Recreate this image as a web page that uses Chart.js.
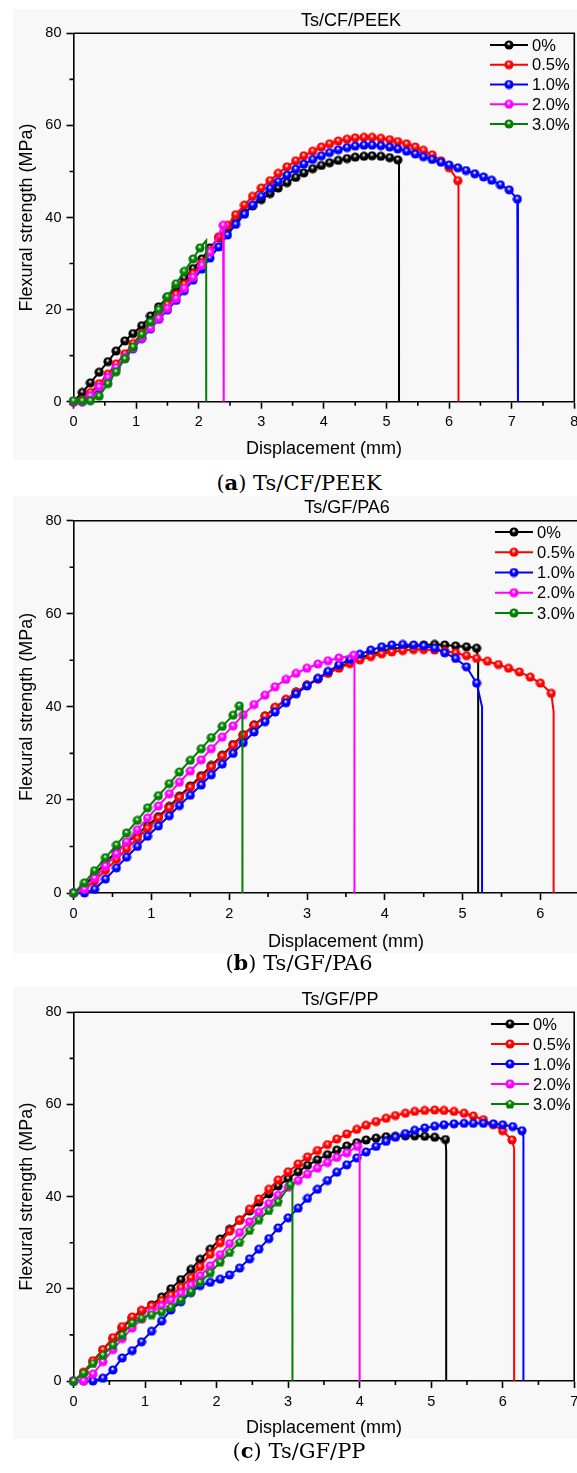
<!DOCTYPE html>
<html lang="en">
<head>
<meta charset="UTF-8">
<title>Flexural strength vs displacement</title>
<script src="https://cdn.jsdelivr.net/npm/chart.js"></script>
<style>
  html, body { margin: 0; padding: 0; background: #fff; }
  body { width: 577px; height: 1473px; overflow: hidden; position: relative; }
  .panel { position: absolute; left: 13px; width: 676px; background: #f8f8f8; }
  .panel canvas { display: block; }
  .caption {
    position: absolute; left: 0; width: 598px; text-align: center;
    font-family: "DejaVu Serif", serif; font-size: 21px; line-height: 24px; color: #000;
  }
</style>
</head>
<body>
<div class="panel" style="top:9px;height:451px"><canvas id="chartA" width="676" height="451"></canvas></div>
<div class="caption" style="top:471px">(<b>a</b>) Ts/CF/PEEK</div>
<div class="panel" style="top:496px;height:457px"><canvas id="chartB" width="676" height="457"></canvas></div>
<div class="caption" style="top:951px">(<b>b</b>) Ts/GF/PA6</div>
<div class="panel" style="top:987px;height:452px"><canvas id="chartC" width="676" height="452"></canvas></div>
<div class="caption" style="top:1439px">(<b>c</b>) Ts/GF/PP</div>

<script>
// displacement (mm) at which the markers sit
const disp = [0, 0.14, 0.27, 0.41, 0.55, 0.68, 0.82, 0.95, 1.09, 1.23, 1.36, 1.5, 1.64, 1.77, 1.91,
  2.05, 2.18, 2.32, 2.46, 2.59, 2.73, 2.86, 3.0, 3.14, 3.27, 3.41, 3.55, 3.68, 3.82, 3.96, 4.09,
  4.23, 4.37, 4.5, 4.64, 4.77, 4.91, 5.05, 5.18, 5.32, 5.46, 5.59, 5.73, 5.87, 6.0, 6.14, 6.27,
  6.41, 6.55, 6.68, 6.82, 6.96, 7.09];

const contents = ['0%', '0.5%', '1.0%', '2.0%', '3.0%'];

// Ts/CF/PEEK, flexural strength (MPa)
const peek_0 = [0, 2.0, 4.1, 6.4, 8.7, 11.0, 13.2, 14.8, 16.5, 18.6, 20.6, 22.7, 24.8, 26.8, 28.9, 31.0,
  33.4, 35.6, 37.6, 39.5, 41.0, 42.5, 43.9, 45.2, 46.4, 47.6, 48.7, 49.7, 50.6, 51.3, 51.9, 52.4, 52.8,
  53.1, 53.3, 53.4, 53.3, 53.0];
const peek_05 = [0, 0.4, 2.0, 3.9, 6.0, 8.2, 10.4, 12.6, 14.9, 17.0, 19.0, 21.1, 23.3, 25.5, 27.8, 30.2,
  32.8, 35.8, 38.3, 40.6, 42.7, 44.6, 46.4, 48.0, 49.6, 51.0, 52.3, 53.4, 54.4, 55.3, 56.0, 56.6, 57.0,
  57.3, 57.4, 57.4, 57.2, 56.9, 56.5, 56.0, 55.3, 54.6, 53.6, 52.3, 50.8];
const peek_10 = [0, 0, 1.0, 2.9, 5.0, 7.2, 9.4, 11.5, 13.7, 15.8, 17.9, 19.9, 22.0, 24.1, 26.4, 28.8,
  31.2, 33.6, 36.2, 38.5, 40.7, 42.7, 44.6, 46.3, 47.8, 49.2, 50.5, 51.6, 52.6, 53.4, 54.1, 54.7, 55.2,
  55.5, 55.7, 55.7, 55.6, 55.3, 54.9, 54.4, 53.8, 53.2, 52.6, 52.0, 51.4, 50.8, 50.2, 49.5, 48.8, 48.1,
  47.1, 46.0];
const peek_20 = [0, 0, 1.3, 3.2, 5.3, 7.4, 9.6, 11.7, 13.9, 16.0, 18.1, 20.2, 22.4, 24.6, 27.0, 29.6, 32.4];
const peek_30 = [0.2, 0.2, 0.2, 1.2, 3.9, 6.5, 9.3, 11.9, 14.6, 17.3, 20.0, 22.8, 25.6, 28.3, 31.0];
// [last marker x, last marker y, fracture x, top of fracture drop]
const peek_end = [[5.18, 52.5, 5.2, 52.0], [6.14, 48.0, 6.15, 46.5], [7.09, 44.0, 7.1, 43.0],
  [2.39, 38.3, 2.4, 38.0], [2.02, 33.4, 2.12, 35.0]];

// Ts/GF/PA6
const pa6_0 = [0, 1.5, 4.0, 6.5, 8.9, 10.8, 12.6, 14.5, 16.4, 18.6, 20.8, 23.0, 25.2, 27.4, 29.6, 31.9,
  34.0, 36.1, 38.0, 39.8, 41.5, 43.1, 44.6, 46.0, 47.3, 48.5, 49.6, 50.5, 51.3, 51.9, 52.4, 52.8, 53.1,
  53.3, 53.4, 53.3, 53.1, 52.9];
const pa6_05 = [0, 0.5, 2.6, 4.9, 7.2, 9.5, 11.7, 13.9, 16.1, 18.3, 20.5, 22.7, 24.9, 27.1, 29.4, 31.7,
  33.9, 36.0, 38.0, 39.9, 41.6, 43.2, 44.7, 46.0, 47.2, 48.3, 49.3, 50.1, 50.8, 51.4, 51.8, 52.1, 52.3,
  52.3, 52.2, 52.0, 51.6, 51.0, 50.4, 49.8, 49.1, 48.3, 47.5, 46.4, 45.1];
const pa6_10 = [0, 0, 0.8, 3.0, 5.4, 7.7, 10.0, 12.2, 14.4, 16.6, 18.8, 21.0, 23.2, 25.4, 27.7, 30.0,
  32.3, 34.6, 36.8, 38.9, 40.9, 42.8, 44.5, 46.1, 47.6, 49.0, 50.2, 51.3, 52.2, 52.9, 53.3, 53.4, 53.3,
  53.1, 52.6, 51.6, 50.4, 48.6];
const pa6_20 = [0, 0.8, 3.2, 5.8, 8.4, 11.0, 13.6, 16.1, 18.7, 21.3, 23.8, 26.2, 28.6, 31.0, 33.5, 35.9,
  38.3, 40.5, 42.5, 44.3, 45.9, 47.2, 48.3, 49.2, 49.9, 50.5];
const pa6_30 = [0, 2.2, 4.8, 7.6, 10.3, 12.9, 15.6, 18.3, 20.9, 23.5, 26.0, 28.5, 31.0, 33.4, 35.8, 38.2];
const pa6_end = [[5.18, 52.6, 5.2, 50.0], [6.14, 42.9, 6.17, 39.0], [5.18, 45.1, 5.25, 40.0],
  [3.6, 51.1, 3.61, 50.5], [2.13, 40.2, 2.17, 39.5]];

// Ts/GF/PP
const pp_0 = [0, 1.8, 4.2, 6.7, 9.2, 11.5, 13.6, 15.2, 16.5, 18.2, 20.0, 22.0, 24.2, 26.4, 28.6, 30.8,
  32.9, 34.9, 36.9, 38.8, 40.6, 42.3, 43.9, 45.4, 46.8, 48.0, 49.1, 50.1, 51.0, 51.7, 52.3, 52.7, 53.0,
  53.1, 53.2, 53.2, 53.1, 52.9];
const pp_05 = [0, 1.9, 4.4, 6.8, 9.4, 11.8, 13.9, 15.3, 16.3, 17.4, 18.6, 20.3, 22.4, 24.8, 27.5, 30.0,
  32.5, 34.9, 37.3, 39.5, 41.6, 43.6, 45.4, 47.1, 48.6, 50.0, 51.3, 52.5, 53.6, 54.6, 55.5, 56.3, 57.0,
  57.6, 58.1, 58.5, 58.7, 58.8, 58.7, 58.5, 58.1, 57.5, 56.7, 55.6, 54.3];
const pp_10 = [0, 0, 0, 0.6, 2.4, 5.0, 6.6, 8.5, 10.8, 13.0, 15.4, 17.2, 19.2, 20.7, 21.4, 22.1, 23.0,
  24.5, 26.5, 28.6, 30.9, 33.2, 35.4, 37.5, 39.6, 41.6, 43.5, 45.3, 46.9, 48.4, 49.7, 50.9, 52.0, 52.9,
  53.7, 54.4, 54.9, 55.3, 55.6, 55.8, 55.9, 55.9, 55.9, 55.8, 55.6, 55.2];
const pp_20 = [0, 0, 1.5, 4.2, 6.8, 9.2, 11.5, 13.4, 15.0, 16.3, 17.5, 19.0, 20.8, 22.8, 25.0, 27.4,
  29.8, 32.2, 34.5, 36.6, 38.5, 40.3, 42.0, 43.5, 44.9, 46.2, 47.4, 48.5, 49.5];
const pp_30 = [0, 1.7, 3.8, 5.6, 7.8, 10.0, 12.6, 13.6, 14.4, 15.0, 16.0, 17.6, 19.4, 21.4, 23.5, 25.8,
  27.9, 30.1, 32.7, 35.0, 37.0, 38.9];
const pp_end = [[5.2, 52.4, 5.21, 50.0], [6.13, 52.3, 6.16, 50.5], [6.27, 54.3, 6.29, 53.0],
  [3.97, 50.9, 4.0, 50.0], [3.03, 42.6, 3.06, 43.0]];

const colors = ['#000000', '#ff0000', '#0000ff', '#ff00ff', '#008000'];
const FONT = '"Liberation Sans", Arial, sans-serif';
Chart.defaults.font.family = FONT;
Chart.defaults.color = '#000';

// shiny bead marker like the Origin plot
function bead(color, shape) {
  const c = document.createElement('canvas');
  c.width = 10; c.height = 10;
  const g = c.getContext('2d');
  g.beginPath();
  if (shape === 'pentagon') {
    for (let k = 0; k < 5; k++) {
      const a = -Math.PI / 2 + k * 2 * Math.PI / 5;
      g.lineTo(5 + 5 * Math.cos(a), 5.4 + 5 * Math.sin(a));
    }
    g.closePath();
  } else {
    g.arc(5, 5, 4.6, 0, Math.PI * 2);
  }
  const grad = g.createRadialGradient(4.6, 3.6, 0.2, 5, 5, 5);
  grad.addColorStop(0, 'rgba(255,255,255,0.95)');
  grad.addColorStop(0.4, color);
  grad.addColorStop(1, color);
  g.fillStyle = grad;
  g.fill();
  return c;
}

const frame = {
  id: 'frame',
  afterDraw(chart) {
    const { ctx, chartArea: a, scales: { x, y } } = chart;
    ctx.save();
    ctx.strokeStyle = '#000';
    ctx.lineWidth = 1.6;
    ctx.beginPath();
    ctx.moveTo(a.left, a.top); ctx.lineTo(a.right, a.top); ctx.lineTo(a.right, a.bottom);
    for (let v = 10; v < 80; v += 20) {
      const py = y.getPixelForValue(v);
      ctx.moveTo(a.left - 4, py); ctx.lineTo(a.left, py);
    }
    for (let v = 0.5; v < x.max; v += 1) {
      const px = x.getPixelForValue(v);
      ctx.moveTo(px, a.bottom); ctx.lineTo(px, a.bottom + 4);
    }
    ctx.stroke();
    ctx.restore();
  }
};

const panelText = {
  id: 'panelText',
  afterDraw(chart, args, o) {
    const ctx = chart.ctx;
    ctx.save();
    ctx.fillStyle = '#000';
    ctx.font = '18px ' + FONT;
    ctx.textAlign = 'center';
    ctx.textBaseline = 'middle';
    ctx.fillText(o.title, o.titleX, o.titleY);
    // legend in the top right corner
    ctx.textAlign = 'left';
    ctx.font = '16.5px ' + FONT;
    chart.data.datasets.forEach((ds, i) => {
      const ly = o.legY + i * o.legStep;
      ctx.strokeStyle = ds.borderColor;
      ctx.lineWidth = 2.2;
      ctx.beginPath(); ctx.moveTo(o.legX, ly); ctx.lineTo(o.legX + 38, ly); ctx.stroke();
      const img = ds.pointStyle;
      ctx.drawImage(img, o.legX + 19 - img.width / 2, ly - img.height / 2);
      ctx.fillText(ds.label, o.legX + 42, ly + 1);
    });
    ctx.restore();
  }
};

function makeChart(id, title, curves, ends, xMax, lay, greenShape) {
  const datasets = curves.map((ys, i) => {
    const pts = ys.map((y, k) => ({ x: disp[k], y: y }));
    const e = ends[i];
    pts.push({ x: e[0], y: e[1] }, { x: e[2], y: e[3] }, { x: e[2], y: 0 });
    const n = pts.length;
    return {
      label: contents[i],
      data: pts,
      borderColor: colors[i],
      borderWidth: 2,
      pointStyle: bead(colors[i], i === 4 ? greenShape : 'circle'),
      pointRadius: c => (c.dataIndex >= n - 2 ? 0 : 4.5),
      tension: 0,
      clip: false,
      order: 4 - i
    };
  });
  return new Chart(document.getElementById(id), {
    type: 'line',
    data: { datasets },
    options: {
      responsive: false,
      animation: false,
      events: [],
      layout: { padding: { left: 0, top: lay.top, right: lay.right, bottom: 0 } },
      plugins: {
        legend: { display: false },
        tooltip: { enabled: false },
        panelText: { title, titleX: lay.titleX, titleY: lay.titleY, legX: lay.legX, legY: lay.legY, legStep: lay.legStep }
      },
      scales: {
        x: {
          type: 'linear', min: 0, max: xMax,
          ticks: { stepSize: 1, padding: 5, maxRotation: 0, autoSkip: false, font: { size: 14.5 } },
          grid: { drawOnChartArea: false, drawTicks: true, tickLength: 7, tickWidth: 1.6, tickColor: '#000' },
          border: { color: '#000', width: 1.6 },
          title: { display: true, text: 'Displacement (mm)', font: { size: 18 }, padding: { top: 0, bottom: 0 } },
          afterFit: s => { s.height = lay.xH; }
        },
        y: {
          min: 0, max: 80,
          ticks: { stepSize: 20, padding: 5, font: { size: 14.5 } },
          grid: { drawOnChartArea: false, drawTicks: true, tickLength: 7, tickWidth: 1.6, tickColor: '#000' },
          border: { color: '#000', width: 1.6 },
          title: { display: true, text: 'Flexural strength (MPa)', font: { size: 18 }, padding: { top: 3, bottom: 0 } },
          afterFit: s => { s.width = lay.yW; }
        }
      }
    },
    plugins: [frame, panelText]
  });
}

makeChart('chartA', 'Ts/CF/PEEK', [peek_0, peek_05, peek_10, peek_20, peek_30], peek_end, 8,
  { top: 24.3, right: 114.7, yW: 60.5, xH: 58.3, titleX: 338, titleY: 12, legX: 477, legY: 36, legStep: 19.75 }, 'circle');
makeChart('chartB', 'Ts/GF/PA6', [pa6_0, pa6_05, pa6_10, pa6_20, pa6_30], pa6_end, 7,
  { top: 24.7, right: 70.8, yW: 60.6, xH: 60, titleX: 334, titleY: 12, legX: 482, legY: 36, legStep: 20.25 }, 'circle');
makeChart('chartC', 'Ts/GF/PP', [pp_0, pp_05, pp_10, pp_20, pp_30], pp_end, 7,
  { top: 25.3, right: 114.8, yW: 60.6, xH: 58, titleX: 327, titleY: 13, legX: 478, legY: 37, legStep: 20 }, 'pentagon');
</script>
</body>
</html>
